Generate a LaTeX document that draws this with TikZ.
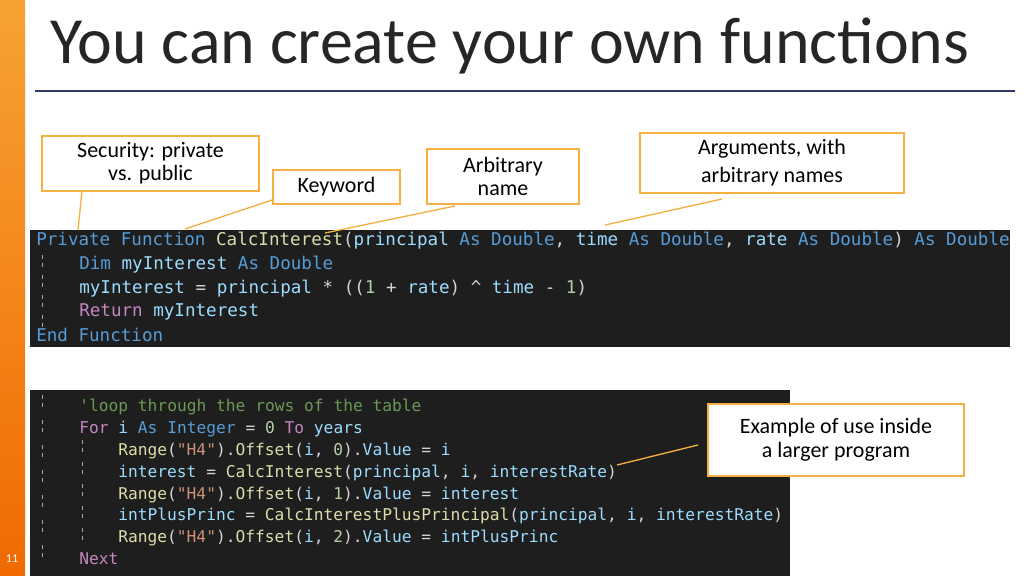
\documentclass[tikz,border=0pt]{standalone}
\usepackage{fontspec}
\setmainfont{Carlito}
\newfontfamily\codefont{DejaVu Sans Mono}
\usetikzlibrary{positioning}
\definecolor{kwblue}{HTML}{569CD6}
\definecolor{fnyellow}{HTML}{DCDCAA}
\definecolor{varblue}{HTML}{9CDCFE}
\definecolor{ctlpurple}{HTML}{C586C0}
\definecolor{cmtgreen}{HTML}{6A9955}
\definecolor{strorange}{HTML}{CE9178}
\definecolor{numgreen}{HTML}{B5CEA8}
\definecolor{plaintext}{HTML}{D4D4D4}
\definecolor{panelbg}{HTML}{1E1E1E}
\definecolor{calloutedge}{HTML}{F5B041}
\definecolor{barlight}{HTML}{F7A234}
\definecolor{bardark}{HTML}{F06A00}
\definecolor{ruleblue}{HTML}{2F3A6B}
\newcommand{\kw}[1]{\textcolor{kwblue}{#1}}
\newcommand{\fn}[1]{\textcolor{fnyellow}{#1}}
\newcommand{\vr}[1]{\textcolor{varblue}{#1}}
\newcommand{\ct}[1]{\textcolor{ctlpurple}{#1}}
\newcommand{\st}[1]{\textcolor{strorange}{#1}}
\newcommand{\nm}[1]{\textcolor{numgreen}{#1}}

\begin{document}
\begin{tikzpicture}[x=0.0264cm, y=-0.0264cm]

    \tikzset{callout/.style = {rectangle, draw=calloutedge, line width=1.3pt, fill=white, align=center, font=\fontsize{16.5}{19}\selectfont, inner sep=0pt},
             codeline/.style = {anchor=west, inner sep=0pt, text=plaintext, font=\codefont\fontsize{13.2}{18}\selectfont},
             codesmall/.style = {anchor=west, inner sep=0pt, text=plaintext, font=\codefont\fontsize{12.2}{15}\selectfont},
             pointer/.style = {draw=calloutedge, line width=1pt}}

    \useasboundingbox (0,0) rectangle (1024,576);
    \fill[white] (0,0) rectangle (1024,576);

    % side bar and title
    \shade[top color=barlight, bottom color=bardark] (0,0) rectangle (25,576);
    \node (slideno) [text=white, font=\fontsize{9}{10}\selectfont] at (12,559) {11};
    \node (title) [anchor=west, inner sep=0pt, text=black!85, font=\fontsize{49.5}{55}\selectfont] at (50,46) {You can create your own functions};
    \draw[ruleblue, line width=0.8pt] (35,91) -- (1015,91);

    % code panels
    \fill[panelbg] (30,230) rectangle (1010,347);
    \fill[panelbg] (30,390) rectangle (790,576);
    \foreach \ypos in {255,275,295,315} {\draw[gray!70, dashed, line width=0.4pt] (42,\ypos) -- (42,\ypos+12);}
    \foreach \ypos in {395,420,445,470,495,520,545} {\draw[gray!70, dashed, line width=0.4pt] (42,\ypos) -- (42,\ypos+14);}
    \foreach \ypos in {440,462,484,506,528} {\draw[gray!70, dashed, line width=0.4pt] (82,\ypos) -- (82,\ypos+12);}

    \node (sig)  [codeline] at (36,241) {\kw{Private Function} \fn{CalcInterest}(\vr{principal} \kw{As Double}, \vr{time} \kw{As Double}, \vr{rate} \kw{As Double}) \kw{As Double}};
    \node (dim)  [codeline] at (79,265) {\kw{Dim} \vr{myInterest} \kw{As Double}};
    \node (calc) [codeline] at (79,289) {\vr{myInterest} = \vr{principal} * ((\nm{1} + \vr{rate}) \string^ \vr{time} - \nm{1})};
    \node (ret)  [codeline] at (79,312) {\ct{Return} \vr{myInterest}};
    \node (endf) [codeline] at (36,335) {\kw{End Function}};

    \node (cmt)   [codesmall] at (79,407) {\textcolor{cmtgreen}{'loop through the rows of the table}};
    \node (loop)  [codesmall] at (79,429) {\ct{For} \vr{i} \kw{As Integer} = \nm{0} \ct{To} \vr{years}};
    \node (row1)  [codesmall] at (118,451) {\fn{Range}(\st{"H4"}).\fn{Offset}(\vr{i}, \nm{0}).\vr{Value} = \vr{i}};
    \node (row2)  [codesmall] at (118,473) {\vr{interest} = \fn{CalcInterest}(\vr{principal}, \vr{i}, \vr{interestRate})};
    \node (row3)  [codesmall] at (118,495) {\fn{Range}(\st{"H4"}).\fn{Offset}(\vr{i}, \nm{1}).\vr{Value} = \vr{interest}};
    \node (row4)  [codesmall] at (118,516) {\vr{intPlusPrinc} = \fn{CalcInterestPlusPrincipal}(\vr{principal}, \vr{i}, \vr{interestRate})};
    \node (row5)  [codesmall] at (118,538) {\fn{Range}(\st{"H4"}).\fn{Offset}(\vr{i}, \nm{2}).\vr{Value} = \vr{intPlusPrinc}};
    \node (nxt)   [codesmall] at (79,559) {\ct{Next}};

    % callouts (sizes in pt: px times 0.75)
    \node (security) [callout, minimum width=162.75pt, minimum height=41.25pt] at (150.5,163.5) {Security: private\\[-2pt]vs. public};
    \node (keyword)  [callout, minimum width=95.25pt, minimum height=25.5pt] at (336.5,187) {Keyword};
    \node (arbname)  [callout, minimum width=114pt, minimum height=41.25pt] at (503,176.5) {Arbitrary\\[-2pt]name};
    \node (argnames) [callout, minimum width=198pt, minimum height=45pt] at (772,163) {Arguments, with\\[2pt]arbitrary names};
    \node (example)  [callout, minimum width=192pt, minimum height=54pt] at (836,440) {Example of use inside\\[-1pt]a larger program};

    \coordinate (secend) at (78,230);
    \coordinate (kwend)  at (185,229);
    \coordinate (nmend)  at (325,233);
    \coordinate (argend) at (605,225);
    \coordinate (exend)  at (617,465);

    \path[pointer] (82,191) -- (secend);
    \path[pointer] (keyword.west |- 0,200) -- (kwend);
    \path[pointer] (455,206) -- (nmend);
    \path[pointer] (722,199) -- (argend);
    \path[pointer] (698,445) -- (exend);

\end{tikzpicture}
\end{document}
